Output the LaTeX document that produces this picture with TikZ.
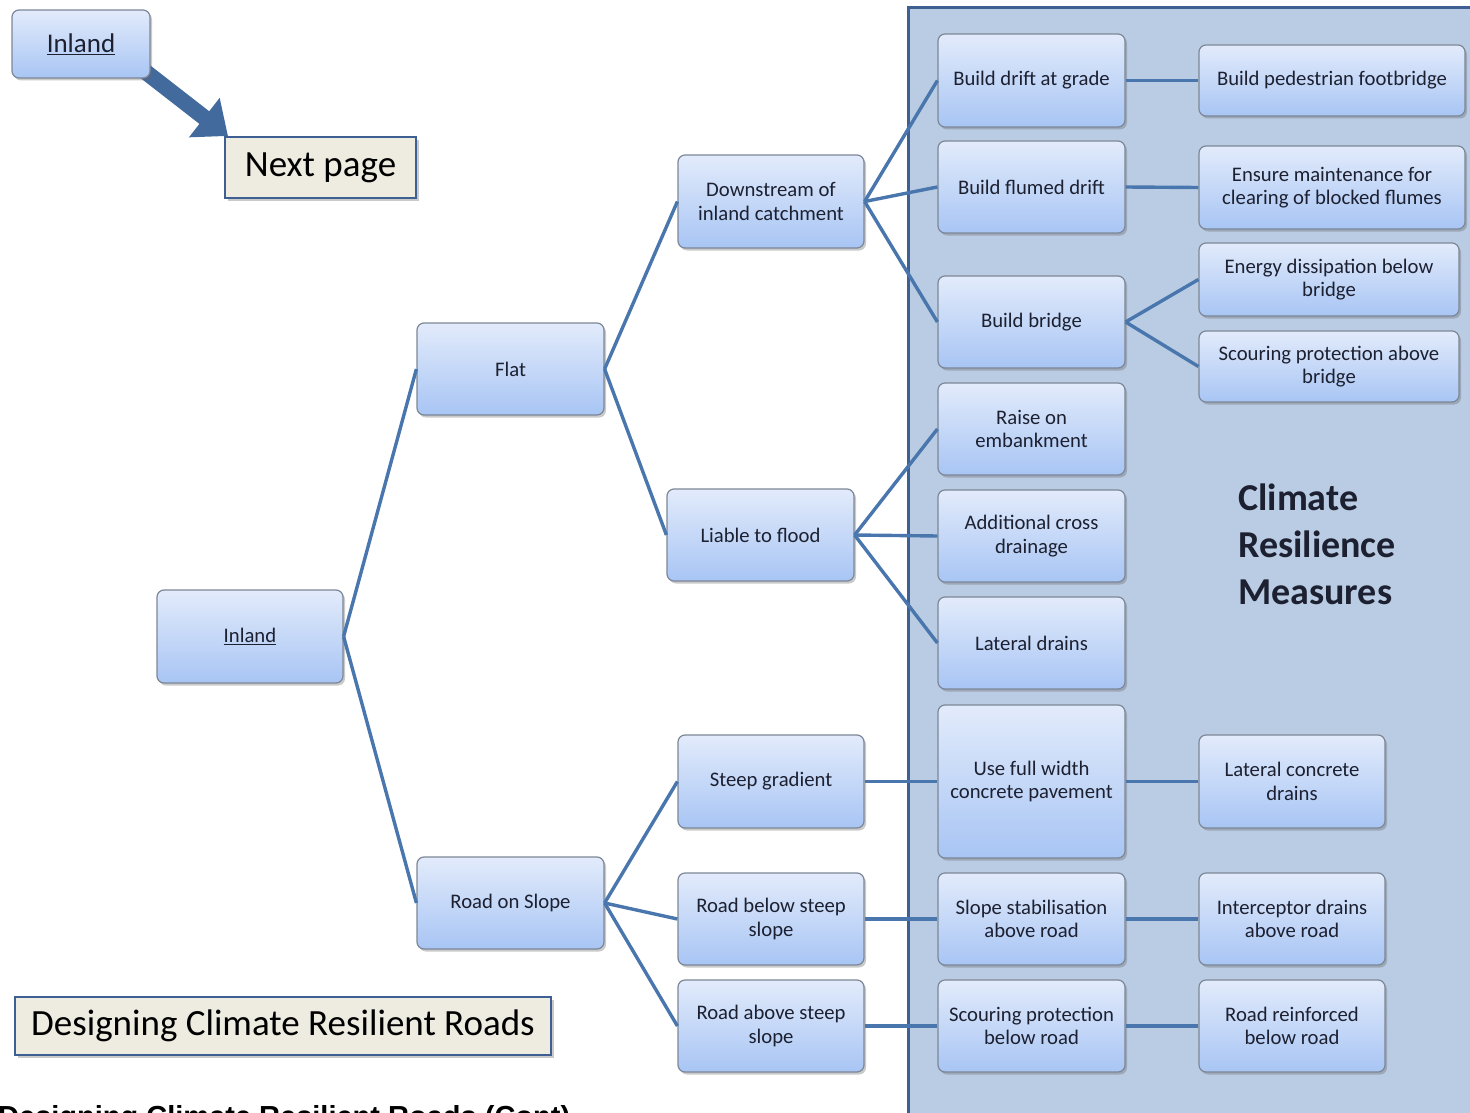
\documentclass[tikz,border=0pt]{standalone}
\usepackage{fontspec}
\setmainfont{Carlito}
\newfontfamily\arialfont{Liberation Sans}
\usetikzlibrary{shadows,shadings,arrows.meta}
\definecolor{boxtop}{HTML}{E2EBFB}
\definecolor{boxbot}{HTML}{A8C5F4}
\definecolor{boxedge}{HTML}{7C8797}
\definecolor{linkc}{HTML}{4A76AE}
\definecolor{panelc}{HTML}{B9CCE3}
\definecolor{paneledge}{HTML}{3D5F92}
\definecolor{beige}{HTML}{EEEBE1}
\definecolor{txt}{HTML}{1C2030}
\tikzset{
  box/.style={draw=boxedge, line width=1.2pt, rounded corners=7pt,
    top color=boxtop, bottom color=boxbot, text=txt, align=center,
    inner sep=2pt, font=\fontsize{20.7}{23.5}\selectfont,
    drop shadow={shadow xshift=2pt, shadow yshift=-2.5pt, opacity=0.35, fill=black!60}},
  tag/.style={draw=paneledge, line width=1.5pt, fill=beige, text=black,
    inner sep=0pt, font=\fontsize{37}{42}\selectfont,
    drop shadow={shadow xshift=2.5pt, shadow yshift=-3pt, opacity=0.35, fill=black!60}},
  link/.style={draw=linkc, line width=3.4pt},
}
\begin{document}
\begin{tikzpicture}[x=1pt,y=-1pt]
\useasboundingbox (0,0) rectangle (1470,1113);
\clip (0,0) rectangle (1470,1113);
% panel
\fill[panelc] (908,8) rectangle (1480,1125);
\draw[paneledge, line width=3pt] (1480,8) -- (908,8) -- (908,1125);

% big arrow
\draw[line width=16pt, draw=linkc!90!black, -{Triangle[length=30pt,width=48pt]}] (138,66) -- (228,136);
\node[box, minimum width=138, minimum height=68, font=\fontsize{27}{30}\selectfont] (inlandtop) at (81,44) {\underline{Inland}};
\node[tag, minimum width=191, minimum height=61] (next) at (320.5,167.5) {Next page};
\node[tag, minimum width=536, minimum height=58] (title) at (283,1026) {Designing Climate Resilient Roads};
\node[anchor=base west, inner sep=0pt, font=\arialfont\bfseries\fontsize{29}{32}\selectfont] (cont) at (-2,1126) {Designing Climate Resilient Roads (Cont)};

% level 1
\node[box, minimum width=186, minimum height=93] (inland) at (250,636.5) {\underline{Inland}};
% level 2
\node[box, minimum width=187, minimum height=92] (flat) at (510.5,369) {Flat};
\node[box, minimum width=187, minimum height=92] (slope) at (510.5,903) {Road on Slope};
% level 3
\node[box, minimum width=186, minimum height=93] (down) at (771,201.5) {Downstream of\\inland catchment};
\node[box, minimum width=187, minimum height=92] (liable) at (760.5,535) {Liable to flood};
\node[box, minimum width=186, minimum height=93] (steep) at (771,781.5) {Steep gradient};
\node[box, minimum width=186, minimum height=92] (below) at (771,919) {Road below steep\\slope};
\node[box, minimum width=186, minimum height=92] (above) at (771,1026) {Road above steep\\slope};
% level 4
\node[box, minimum width=187, minimum height=93] (drift) at (1031.5,80.5) {Build drift at grade};
\node[box, minimum width=187, minimum height=92] (flumed) at (1031.5,187) {Build flumed drift};
\node[box, minimum width=187, minimum height=92] (bridge) at (1031.5,322) {Build bridge};
\node[box, minimum width=187, minimum height=92] (raise) at (1031.5,429) {Raise on\\embankment};
\node[box, minimum width=187, minimum height=92] (cross) at (1031.5,536) {Additional cross\\drainage};
\node[box, minimum width=187, minimum height=92] (ldrains) at (1031.5,643) {Lateral drains};
\node[box, minimum width=187, minimum height=153] (full) at (1031.5,781.5) {Use full width\\concrete pavement};
\node[box, minimum width=187, minimum height=92] (stab) at (1031.5,919) {Slope stabilisation\\above road};
\node[box, minimum width=187, minimum height=92] (scour) at (1031.5,1026) {Scouring protection\\below road};
% level 5
\node[box, minimum width=266, minimum height=71] (foot) at (1332,80.5) {Build pedestrian footbridge};
\node[box, minimum width=266, minimum height=83] (maint) at (1332,187.5) {Ensure maintenance for\\clearing of blocked flumes};
\node[box, minimum width=260, minimum height=73] (energy) at (1329,279.5) {Energy dissipation below\\bridge};
\node[box, minimum width=260, minimum height=71] (scourup) at (1329,366.5) {Scouring protection above\\bridge};
\node[box, minimum width=186, minimum height=93] (lcd) at (1292,781.5) {Lateral concrete\\drains};
\node[box, minimum width=186, minimum height=92] (inter) at (1292,919) {Interceptor drains\\above road};
\node[box, minimum width=186, minimum height=92] (reinf) at (1292,1026) {Road reinforced\\below road};

\node[anchor=west, align=left, inner sep=0pt, text=txt, font=\bfseries\fontsize{38}{47}\selectfont] (crm) at (1238,544) {Climate\\Resilience\\Measures};

% connectors
\draw[link] (inland.east) -- (flat.west);
\draw[link] (inland.east) -- (slope.west);
\draw[link] (flat.east) -- (down.west);
\draw[link] (flat.east) -- (liable.west);
\draw[link] (down.east) -- (drift.west);
\draw[link] (down.east) -- (flumed.west);
\draw[link] (down.east) -- (bridge.west);
\draw[link] (liable.east) -- (raise.west);
\draw[link] (liable.east) -- (cross.west);
\draw[link] (liable.east) -- (ldrains.west);
\draw[link] (slope.east) -- (steep.west);
\draw[link] (slope.east) -- (below.west);
\draw[link] (slope.east) -- (above.west);
\draw[link] (steep.east) -- (full.west);
\draw[link] (below.east) -- (stab.west);
\draw[link] (above.east) -- (scour.west);
\draw[link] (drift.east) -- (foot.west);
\draw[link] (flumed.east) -- (maint.west);
\draw[link] (bridge.east) -- (energy.west);
\draw[link] (bridge.east) -- (scourup.west);
\draw[link] (full.east) -- (lcd.west);
\draw[link] (stab.east) -- (inter.west);
\draw[link] (scour.east) -- (reinf.west);
\end{tikzpicture}
\end{document}
